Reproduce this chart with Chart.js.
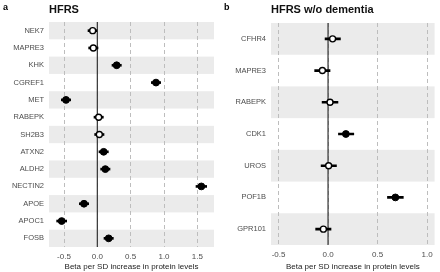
<!DOCTYPE html>
<html>
<head>
<meta charset="utf-8">
<script src="https://cdn.jsdelivr.net/npm/chart.js@4.4.1/dist/chart.umd.min.js"></script>
<style>
  body { margin: 0; background: #fff; width: 440px; height: 272px; position: relative; overflow: hidden;
         font-family: "Liberation Sans", Arial, sans-serif; }
  .wrap { position: absolute; top: 0; width: 220px; height: 272px; }
  .tag { position: absolute; top: 2px; font-weight: bold; font-size: 9px; color: #000; }
  .ttl { position: absolute; top: 3px; font-weight: bold; font-size: 11px; color: #111; }
</style>
</head>
<body>
<div class="wrap" style="left:0"><canvas id="chartA" width="220" height="272"></canvas></div>
<div class="wrap" style="left:220px"><canvas id="chartB" width="220" height="272"></canvas></div>
<div class="tag" style="left:3px">a</div>
<div class="ttl" style="left:49px">HFRS</div>
<div class="tag" style="left:224px">b</div>
<div class="ttl" style="left:271px">HFRS w/o dementia</div>
<script>
// panel a
const genesA = ['NEK7', 'MAPRE3', 'KHK', 'CGREF1', 'MET', 'RABEPK', 'SH2B3', 'ATXN2', 'ALDH2', 'NECTIN2', 'APOE', 'APOC1', 'FOSB'];
const betaA = [-0.07, -0.06, 0.29, 0.88, -0.47, 0.02, 0.03, 0.095, 0.12, 1.56, -0.20, -0.535, 0.17];
const lowA  = [-0.14, -0.13, 0.22, 0.81, -0.54, -0.05, -0.04, 0.025, 0.05, 1.48, -0.27, -0.61, 0.10];
const highA = [0.00, 0.01, 0.36, 0.95, -0.40, 0.09, 0.10, 0.165, 0.19, 1.64, -0.13, -0.46, 0.24];
const sigA  = [0, 0, 1, 1, 1, 0, 0, 1, 1, 1, 1, 1, 1];
const ticksA = [-0.5, 0, 0.5, 1, 1.5];

// panel b
const genesB = ['CFHR4', 'MAPRE3', 'RABEPK', 'CDK1', 'UROS', 'POF1B', 'GPR101'];
const betaB = [0.046, -0.057, 0.02, 0.18, 0.006, 0.68, -0.047];
const lowB  = [-0.03, -0.135, -0.06, 0.105, -0.07, 0.60, -0.125];
const highB = [0.125, 0.02, 0.10, 0.26, 0.085, 0.76, 0.03];
const sigB  = [0, 0, 0, 1, 0, 1, 0];
const ticksB = [-0.5, 0, 0.5, 1];

const xTitle = 'Beta per SD increase in protein levels';

// gray bands on every other row, and the solid zero line
const bandsPlugin = {
    id: 'bands',
    beforeDraw(chart) {
        const { ctx, chartArea, scales } = chart;
        const n = scales.y.ticks.length;
        const step = (chartArea.bottom - chartArea.top) / n;
        ctx.save();
        ctx.fillStyle = '#ebebeb';
        for (let i = 0; i < n; i += 2) {
            const c = scales.y.getPixelForValue(i);
            ctx.fillRect(chartArea.left, c - step / 2, chartArea.right - chartArea.left, step);
        }
        ctx.restore();
    },
    beforeDatasetsDraw(chart) {
        const { ctx, chartArea, scales } = chart;
        const x0 = scales.x.getPixelForValue(0);
        ctx.save();
        ctx.strokeStyle = '#333';
        ctx.lineWidth = 1.2;
        ctx.beginPath();
        ctx.moveTo(x0, chartArea.top);
        ctx.lineTo(x0, chartArea.bottom);
        ctx.stroke();
        ctx.restore();
    }
};

function makeChart(id, genes, beta, low, high, sig, ticks, xmin, xmax, box) {
    const ranges = low.map((l, i) => [l, high[i]]);
    return new Chart(document.getElementById(id), {
        type: 'bar',
        data: {
            labels: genes,
            datasets: [
                {
                    type: 'line',
                    indexAxis: 'y',
                    data: beta,
                    showLine: false,
                    pointRadius: sig.map(s => s ? 3.4 : 3),
                    pointBorderWidth: sig.map(s => s ? 1 : 1.4),
                    pointBackgroundColor: sig.map(s => s ? '#000' : '#fff'),
                    pointBorderColor: '#000',
                    order: 0
                },
                {
                    type: 'bar',
                    indexAxis: 'y',
                    data: ranges,
                    backgroundColor: '#000',
                    borderWidth: 0,
                    barThickness: 2,
                    order: 1
                }
            ]
        },
        options: {
            responsive: false,
            animation: false,
            events: [],
            layout: { padding: { top: box.top, right: box.right, left: 0, bottom: 0 } },
            plugins: { legend: { display: false }, tooltip: { enabled: false } },
            scales: {
                x: {
                    type: 'linear',
                    min: xmin,
                    max: xmax,
                    offset: false,
                    afterBuildTicks: s => { s.ticks = ticks.map(v => ({ value: v })); },
                    afterFit: s => { s.height = box.xh; },
                    grid: { color: '#bdbdbd', lineWidth: 1, drawTicks: false, offset: false },
                    border: { display: false, dash: [4, 3] },
                    ticks: {
                        padding: 5,
                        color: '#4d4d4d',
                        font: { family: 'Liberation Sans', size: 8 },
                        callback: v => v.toFixed(1)
                    },
                    title: {
                        display: true,
                        text: xTitle,
                        color: '#222',
                        padding: { top: 1, bottom: 0 },
                        font: { family: 'Liberation Sans', size: 8 }
                    }
                },
                y: {
                    type: 'category',
                    offset: true,
                    afterFit: s => { s.width = box.yw; },
                    grid: { display: false, drawTicks: false },
                    border: { display: false },
                    ticks: {
                        padding: 5,
                        color: '#4d4d4d',
                        font: { family: 'Liberation Sans', size: 7.5 }
                    }
                }
            }
        },
        plugins: [bandsPlugin]
    });
}

makeChart('chartA', genesA, betaA, lowA, highA, sigA, ticksA, -0.725, 1.75,
    { top: 22, right: 6, yw: 49, xh: 25 });
makeChart('chartB', genesB, betaB, lowB, highB, sigB, ticksB, -0.576, 1.076,
    { top: 23, right: 3, yw: 51, xh: 27 });
</script>
</body>
</html>
